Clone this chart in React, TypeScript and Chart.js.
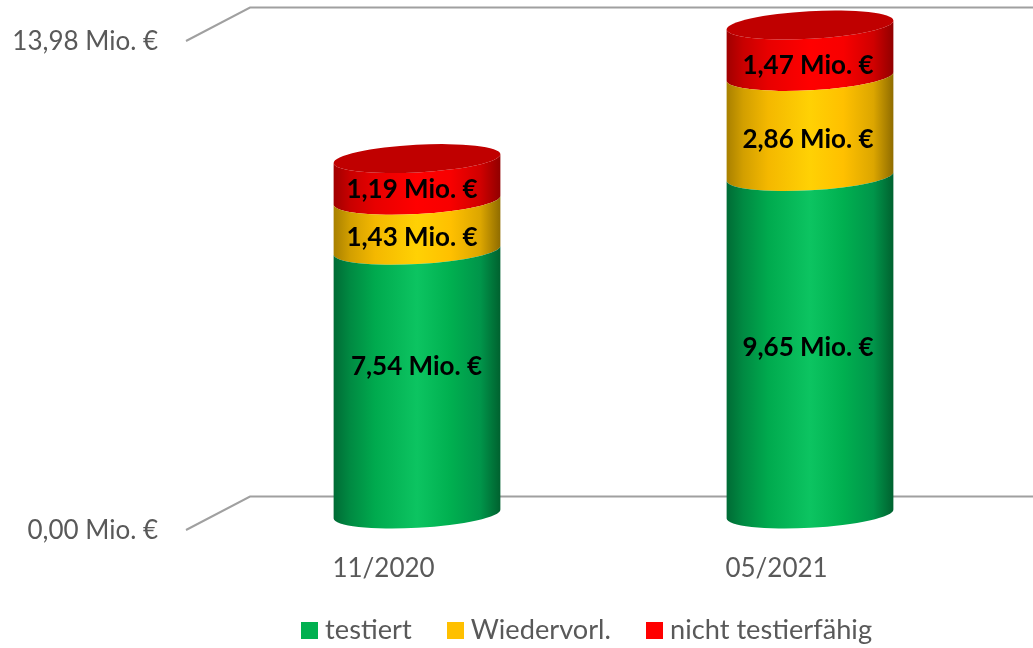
import React, { useEffect, useRef } from "react";
import { Chart, BarController, BarElement, CategoryScale, LinearScale, Legend } from "chart.js";

const categories = ["11/2020", "05/2021"];
const testiert = [7.54, 9.65];
const wiedervorl = [1.43, 2.86];
const nichtTestierfaehig = [1.19, 1.47];
const axisTicks = [0, 13.98];

const FONT = "Lato";
const GREY = "#595959";
const fmt = (v: number) => v.toFixed(2).replace(".", ",") + " Mio. €";

// pseudo-3D geometry of the chart's floor
const WALL_DX = 64, WALL_DY = 33.5;
const CYL_DX = 33.5, CYL_DY = 16, RY = 13.8, TILT = (-3.1 * Math.PI) / 180;

const shades: Record<string, [number, string][]> = {
  "#00B050": [[0, "#006b35"], [0.1, "#008a42"], [0.25, "#00aa4e"], [0.5, "#0cc461"], [0.7, "#00b050"], [0.88, "#00954a"], [1, "#00612f"]],
  "#FFC000": [[0, "#a88000"], [0.1, "#d29f00"], [0.25, "#f4b800"], [0.5, "#ffd104"], [0.7, "#ffc000"], [0.88, "#dca600"], [1, "#8f6c00"]],
  "#FF0000": [[0, "#a00000"], [0.1, "#c80000"], [0.25, "#e80000"], [0.5, "#ff0000"], [0.7, "#f80000"], [0.88, "#d00000"], [1, "#900000"]],
};

class CylinderElement extends BarElement {
  static id = "cylinder";
  draw(ctx: CanvasRenderingContext2D) {
    const { x, y, base, width } = (this as any).getProps(["x", "y", "base", "width"]);
    const color = (this as any).options.backgroundColor as string;
    const cx = x + CYL_DX, rx = width / 2;
    const top = y - CYL_DY, bottom = base - CYL_DY;
    const g = ctx.createLinearGradient(cx - rx, 0, cx + rx, 0);
    (shades[color] || [[0, color], [1, color]]).forEach(([o, c]: any) => g.addColorStop(o, c));
    ctx.save();
    ctx.fillStyle = g;
    ctx.beginPath();
    ctx.ellipse(cx, top, rx, RY, TILT, Math.PI, 0, true);
    ctx.ellipse(cx, bottom, rx, RY, TILT, 0, Math.PI, false);
    ctx.closePath();
    ctx.fill();
    ctx.restore();
  }
}

class CylinderController extends BarController {
  static id = "cylinder";
  static defaults = { ...(BarController as any).defaults, dataElementType: "cylinder" };
}

Chart.register(CylinderController, CylinderElement, BarElement, BarController, CategoryScale, LinearScale, Legend);

// hand-placed label nudges of the original slide: [dx, dy] per dataset and category
const labelNudges = [
  [[-0.5, -16], [-2, 2.8]],
  [[-5, 12.8], [-2, 13.6]],
  [[-5, 10.6], [-2, 15.3]],
];

const wallPlugin = {
  id: "wall",
  beforeDatasetsDraw(chart: any) {
    const { ctx, scales, chartArea } = chart;
    ctx.save();
    ctx.strokeStyle = "#a0a0a0";
    ctx.lineWidth = 2;
    scales.y.ticks.forEach((t: any) => {
      const py = scales.y.getPixelForValue(t.value);
      ctx.beginPath();
      ctx.moveTo(chartArea.left - 1, py);
      ctx.lineTo(chartArea.left - 1 + WALL_DX, py - WALL_DY);
      ctx.lineTo(chart.width, py - WALL_DY);
      ctx.stroke();
    });
    ctx.restore();
  },
};

const capPlugin = {
  id: "caps",
  afterDatasetsDraw(chart: any) {
    const { ctx, data } = chart;
    const last = data.datasets.length - 1;
    ctx.save();
    chart.getDatasetMeta(last).data.forEach((el: any) => {
      ctx.fillStyle = "#c00000";
      ctx.beginPath();
      ctx.ellipse(el.x + CYL_DX, el.y - CYL_DY, el.width / 2, RY, TILT, 0, Math.PI * 2);
      ctx.fill();
    });
    ctx.fillStyle = "#000";
    ctx.font = `bold 26px ${FONT}`;
    ctx.textAlign = "center";
    ctx.textBaseline = "middle";
    data.datasets.forEach((ds: any, di: number) => {
      chart.getDatasetMeta(di).data.forEach((el: any, i: number) => {
        const [dx, dy] = labelNudges[di][i];
        ctx.fillText(fmt(ds.data[i]), el.x + CYL_DX + dx, (el.y + el.base) / 2 - CYL_DY + dy);
      });
    });
    ctx.restore();
  },
};

const legendPlugin = {
  id: "placeLegend",
  beforeLayout(chart: any) {
    // The legend is placed by hand below, so it takes no room in the layout.
    const l = chart.legend;
    if (!l || l.__patched) return;
    const fit = l.fit;
    l.fit = function () {
      fit.call(this);
      this.height = 0;
    };
    l.__patched = true;
  },
  afterLayout(chart: any) {
    const l = chart.legend;
    if (!l) return;
    const p = l.options.labels.padding;
    l.left = 301 + 6.5 - p;
    l.right = l.left + l.width;
    l.top = 630 - 13.5 - p;
  },
};

function swatch(color: string) {
  const c = document.createElement("canvas");
  c.width = 17;
  c.height = 17;
  const x = c.getContext("2d")!;
  x.fillStyle = color;
  x.fillRect(0, 0, 17, 17);
  return c;
}

export default function App() {
  const ref = useRef<HTMLCanvasElement>(null);
  useEffect(() => {
    const chart = new Chart(ref.current!, {
      type: "cylinder" as any,
      data: {
        labels: categories,
        datasets: [
          { label: "testiert", data: testiert, backgroundColor: "#00B050" },
          { label: "Wiedervorl.", data: wiedervorl, backgroundColor: "#FFC000" },
          { label: "nicht testierfähig", data: nichtTestierfaehig, backgroundColor: "#FF0000" },
        ],
      },
      options: {
        animation: false,
        responsive: false,
        barThickness: 167,
        clip: false,
        layout: { padding: { top: 41, right: 60, left: 0, bottom: 0 } },
        scales: {
          x: {
            stacked: true,
            grid: { display: false },
            border: { display: false },
            afterFit: (s: any) => { s.height = 118; },
            ticks: { color: GREY, font: { family: FONT, size: 26 }, padding: 15, maxRotation: 0 },
          },
          y: {
            stacked: true,
            min: 0,
            max: 13.98,
            grid: { display: false },
            border: { display: false },
            afterBuildTicks: (s: any) => { s.ticks = axisTicks.map((value) => ({ value })); },
            afterFit: (s: any) => { s.width = 187; },
            ticks: {
              color: GREY,
              font: { family: FONT, size: 26 },
              padding: 21,
              labelOffset: 1,
              callback: (v: any) => fmt(Number(v)),
            },
          },
        },
        plugins: {
          tooltip: { enabled: false },
          legend: {
            display: true,
            position: "bottom",
            align: "start",
            labels: {
              usePointStyle: true,
              pointStyleWidth: 4,
              boxHeight: 17,
              padding: 41.5,
              color: GREY,
              font: { family: FONT, size: 27.2 },
              generateLabels: (c: any) =>
                c.data.datasets.map((d: any, i: number) => ({
                  text: d.label,
                  fillStyle: d.backgroundColor,
                  strokeStyle: d.backgroundColor,
                  lineWidth: 0,
                  pointStyle: swatch(d.backgroundColor),
                  datasetIndex: i,
                  fontColor: GREY,
                })),
            },
          },
        },
      } as any,
      plugins: [wallPlugin, capPlugin, legendPlugin],
    } as any);
    return () => chart.destroy();
  }, []);
  return (
    <canvas
      ref={ref}
      width={1033}
      height={648}
      style={{ position: "absolute", left: 0, top: 0, display: "block", background: "#fff" }}
    />
  );
}
